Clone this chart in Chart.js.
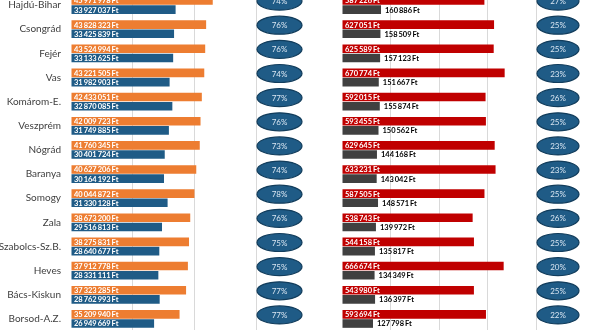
<!DOCTYPE html>
<html><head><meta charset="utf-8">
<script src="https://cdn.jsdelivr.net/npm/chart.js@4/dist/chart.umd.min.js"></script>
<style>
html,body{margin:0;padding:0;background:#fff;overflow:hidden;width:605px;height:330px;position:relative;}
canvas{position:absolute;display:block;}
#cL{left:0;top:-7px;}
#cR{left:330px;top:-7px;}
</style></head><body>
<canvas id="cL" width="330" height="338"></canvas>
<canvas id="cR" width="275" height="338"></canvas>
<script>
const counties = ['Hajdú-Bihar','Csongrád','Fejér','Vas','Komárom-E.','Veszprém','Nógrád','Baranya','Somogy','Zala','Szabolcs-Sz.B.','Heves','Bács-Kiskun','Borsod-A.Z.'];
const leftTop = [45971978,43828323,43524994,43221505,42433051,42009723,41760345,40627206,40044872,38673200,38275831,37912778,37323285,35209940];
const leftBottom = [33927037,33425839,33133625,31982903,32870085,31749885,30401724,30164192,31330128,29516813,28640677,28331111,28762993,26949669];
const leftPct = [74,76,76,74,77,76,73,74,78,76,75,75,77,77];
const rightTop = [587226,627051,625589,670774,592015,593455,629645,633231,587505,538743,544158,666674,543980,593694];
const rightBottom = [160886,158509,157123,151667,155874,150562,144168,143042,148571,139972,135817,134349,136397,127798];
const rightPct = [27,25,25,23,26,25,23,23,25,26,25,20,25,22];
const leftTicks = {min:0, max:60000000, step:20000000};
const rightTicks = {min:0, max:800000, step:200000};

const C = {orange:'#ED7D31', blue:'#1F5B86', red:'#C00000', dark:'#404040', grid:'#D9D9D9',
  ellFill:'#1F5B86', ellStroke:'#123D5C', ellText:'#D9E6F2', cat:'#404040'};

function fmt(v){ return String(v).replace(/\B(?=(\d{3})+(?!\d))/g,'\u2009') + '\u2009Ft'; }

const valueLabels = {
  id:'valueLabels',
  afterDatasetsDraw(chart){
    const ctx = chart.ctx;
    chart.data.datasets.forEach((ds, di)=>{
      const meta = chart.getDatasetMeta(di);
      meta.data.forEach((bar, i)=>{
        const v = ds.data[i];
        ctx.save();
        ctx.font = 'bold 7.5px Lato';
        ctx.fillStyle = ds.labelColor;
        ctx.textBaseline = 'middle';
        ctx.textAlign = 'left';
        const x = ds.labelInside ? bar.base + 2.5 : bar.x + 4;
        ctx.fillText(fmt(v), x, bar.y + 0.5);
        ctx.restore();
      });
    });
  }
};

const ellipses = {
  id:'ellipses',
  afterDraw(chart, args, opts){
    const {ctx, chartArea} = chart;
    const y = chart.scales.y;
    opts.values.forEach((p, i)=>{
      const cy = y.getPixelForValue(i) - 4;
      const cx = chartArea.right + opts.dx;
      ctx.save();
      ctx.beginPath();
      ctx.ellipse(cx, cy, opts.rx, opts.ry, 0, 0, Math.PI*2);
      ctx.fillStyle = C.ellFill; ctx.fill();
      ctx.lineWidth = 1.2; ctx.strokeStyle = C.ellStroke; ctx.stroke();
      ctx.fillStyle = C.ellText;
      ctx.font = '8px Lato';
      ctx.textAlign = 'center'; ctx.textBaseline = 'middle';
      ctx.fillText(p + '%', cx, cy + 0.5);
      ctx.restore();
    });
  }
};

function makeChart(id, top, bottom, topColor, bottomColor, ticks, pct, isLeft){
  return new Chart(document.getElementById(id), {
    type:'bar',
    data:{
      labels: counties,
      datasets:[
        {data: top, backgroundColor: topColor, labelColor:'#FFFFFF', labelInside:true,
         categoryPercentage:0.76, barPercentage:0.94},
        {data: bottom, backgroundColor: bottomColor, labelColor: isLeft ? '#FFFFFF' : '#000000', labelInside: isLeft,
         categoryPercentage:0.76, barPercentage:0.94}
      ]
    },
    options:{
      indexAxis:'y',
      responsive:false,
      animation:false,
      layout:{padding: isLeft ? {left:0,right:74,top:0,bottom:0} : {left:12,right:69,top:0,bottom:0}},
      plugins:{legend:{display:false}, tooltip:{enabled:false},
        ellipses:{values:pct, dx: isLeft ? 23.5 : 22, rx: isLeft ? 22.5 : 21, ry: 9}},
      scales:{
        x:{min:ticks.min, max:ticks.max, display:true,
           ticks:{display:false, stepSize:ticks.step},
           grid:{color:(c)=> (c.tick && c.tick.value === 0) ? 'rgba(0,0,0,0)' : C.grid, lineWidth:1, drawTicks:false},
           border:{display:false},
           afterFit(s){ s.height = 0; s.paddingLeft = 0; s.paddingRight = 0; }},
        y:{display:isLeft,
           ticks:{color:C.cat, font:{family:'Lato', size:10}, padding:10},
           grid:{display:false, drawTicks:false},
           border:{display:false},
           afterFit(s){ if(isLeft) s.width = 71; s.paddingTop = 0; s.paddingBottom = 0; }}
      }
    },
    plugins:[valueLabels, ellipses]
  });
}

function go(){
  makeChart('cL', leftTop, leftBottom, C.orange, C.blue, leftTicks, leftPct, true);
  makeChart('cR', rightTop, rightBottom, C.red, C.dark, rightTicks, rightPct, false);
}
Promise.all([document.fonts.load('10px Lato'), document.fonts.load('bold 8px Lato')]).then(go, go);
</script>
</body></html>
